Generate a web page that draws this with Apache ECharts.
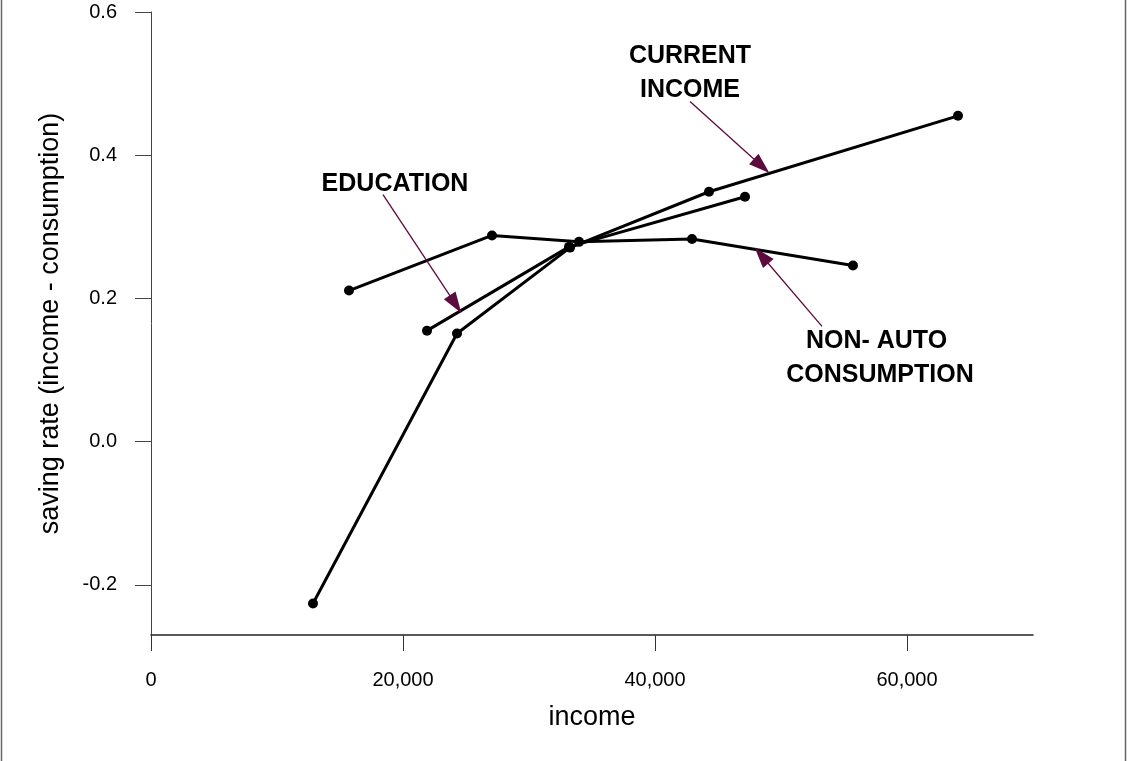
<!DOCTYPE html>
<html>
<head>
<meta charset="utf-8">
<script src="https://cdn.jsdelivr.net/npm/echarts@6/dist/echarts.min.js"></script>
<style>
html,body{margin:0;padding:0;background:#fff;}
#chart{width:1127px;height:761px;}
</style>
</head>
<body>
<div id="chart"></div>
<script>
// Data (income, saving rate) per group
const currentIncome = [[12857, -0.226], [24286, 0.151], [33254, 0.271], [44286, 0.349], [64048, 0.455]];
const education = [[21905, 0.155], [33175, 0.272], [47143, 0.342]];
const nonAutoConsumption = [[15714, 0.211], [27063, 0.288], [33968, 0.279], [42937, 0.283], [55714, 0.246]];

const xTicks = [0, 20000, 40000, 60000];
const yTicks = [-0.2, 0, 0.2, 0.4, 0.6];

// Annotation arrows: [from, to] in data coordinates
const arrowEducation = [[18413, 0.345], [24167, 0.192]];
const arrowCurrent = [[42778, 0.475], [48460, 0.385]];
const arrowNonAuto = [[53254, 0.161], [48452, 0.260]];

// Annotation texts in data coordinates
const labelEducation = {text: 'EDUCATION', at: [19365, 0.360]};
const labelCurrent = {text: 'CURRENT\nINCOME', at: [42778, 0.514]};
const labelNonAuto = {text: 'NON- AUTO \nCONSUMPTION', at: [57857, 0.116]};

const FONT = '"Liberation Sans", Arial, Helvetica, sans-serif';
const ARROW = '#5c0b3e';

const chart = echarts.init(document.getElementById('chart'), null, {renderer: 'canvas'});

function lineSeries(name, data, extra) {
  return Object.assign({
    name: name,
    type: 'line',
    data: data,
    symbol: 'circle',
    symbolSize: 10,
    lineStyle: {color: '#000', width: 3},
    itemStyle: {color: '#000'},
    animation: false,
    silent: true,
    z: 3
  }, extra || {});
}

function arrow(a) {
  return [{coord: a[0]}, {coord: a[1]}];
}
function txt(l) {
  return {coord: l.at, value: l.text};
}

const option = {
  backgroundColor: '#fff',
  animation: false,
  grid: {left: 151, top: 12, right: 94, bottom: 126, containLabel: false},
  xAxis: {
    type: 'value',
    min: 0,
    max: 70000,
    name: 'income',
    nameLocation: 'middle',
    nameGap: 69,
    nameTextStyle: {fontSize: 27, color: '#000', fontFamily: FONT},
    axisLine: {show: true, onZero: false, lineStyle: {color: '#222', width: 1.5}},
    axisTick: {show: true, inside: false, length: 16, customValues: xTicks, lineStyle: {color: '#333', width: 1}},
    axisLabel: {
      show: true, margin: 35, fontSize: 20, color: '#000', fontFamily: FONT,
      customValues: xTicks,
      formatter: v => v === 0 ? '0' : Number(v).toLocaleString('en-US')
    },
    splitLine: {show: false}
  },
  yAxis: {
    type: 'value',
    min: -0.27,
    max: 0.6,
    name: 'saving rate (income - consumption)',
    nameLocation: 'middle',
    nameGap: 87,
    nameRotate: 90,
    nameTextStyle: {fontSize: 27, color: '#000', fontFamily: FONT},
    axisLine: {show: true, onZero: false, lineStyle: {color: '#444', width: 1}},
    axisTick: {show: true, inside: false, length: 16, customValues: yTicks, lineStyle: {color: '#444', width: 1}},
    axisLabel: {
      show: true, margin: 34, fontSize: 20, color: '#000', fontFamily: FONT,
      customValues: yTicks,
      formatter: v => Number(v).toFixed(1)
    },
    splitLine: {show: false}
  },
  series: [
    lineSeries('Current income', currentIncome, {
      markLine: {
        silent: true,
        animation: false,
        symbol: ['none', 'triangle'],
        symbolSize: [14, 21],
        lineStyle: {color: ARROW, width: 1.3, type: 'solid'},
        label: {show: false},
        emphasis: {disabled: true},
        data: [arrow(arrowEducation), arrow(arrowCurrent), arrow(arrowNonAuto)]
      },
      markPoint: {
        silent: true,
        animation: false,
        symbol: 'circle',
        symbolSize: 1,
        itemStyle: {color: 'rgba(0,0,0,0)'},
        label: {
          show: true, position: 'inside', color: '#000', fontWeight: 'bold',
          fontSize: 25, lineHeight: 34, fontFamily: FONT, align: 'center',
          formatter: p => p.value
        },
        data: [txt(labelEducation), txt(labelCurrent), txt(labelNonAuto)]
      }
    }),
    lineSeries('Education', education),
    lineSeries('Non-auto consumption', nonAutoConsumption)
  ],
  graphic: [
    {type: 'line', shape: {x1: 1.5, y1: 0, x2: 1.5, y2: 761}, style: {stroke: '#666', lineWidth: 1.5}, silent: true},
    {type: 'line', shape: {x1: 1125.5, y1: 0, x2: 1125.5, y2: 761}, style: {stroke: '#666', lineWidth: 1.5}, silent: true}
  ]
};

chart.setOption(option);
</script>
</body>
</html>
